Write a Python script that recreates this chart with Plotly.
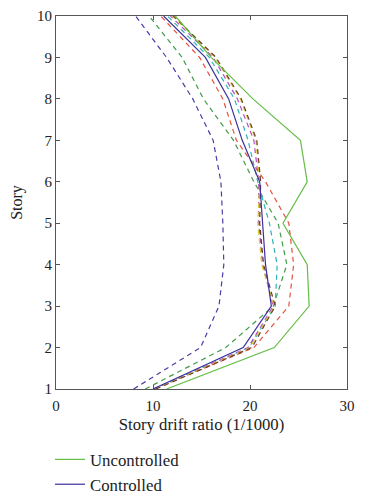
import plotly.graph_objects as go

stories = [1, 2, 3, 4, 5, 6, 7, 8, 9, 10]

uncontrolled = [11.4, 22.5, 26.1, 25.9, 23.4, 25.9, 25.2, 20.3, 16.0, 12.3]
controlled = [10.0, 19.3, 22.2, 21.6, 21.3, 21.0, 19.2, 17.8, 15.4, 11.1]

dashed_blue = [8.0, 14.9, 16.8, 17.3, 17.2, 17.0, 16.2, 14.1, 11.4, 8.2]
dashed_green = [9.2, 17.5, 22.4, 23.8, 22.9, 20.4, 18.3, 15.2, 13.0, 9.6]
dashed_red = [10.1, 20.4, 24.0, 24.5, 24.0, 21.6, 18.6, 17.2, 14.8, 10.8]
dashed_cyan = [10.0, 19.9, 22.6, 22.8, 22.0, 20.8, 19.8, 18.4, 15.8, 11.5]
dashed_magenta = [10.1, 19.8, 22.4, 21.3, 20.9, 20.9, 20.4, 18.7, 16.2, 11.8]
dashed_yellow = [10.2, 20.0, 22.5, 21.2, 20.8, 21.0, 20.6, 19.0, 16.4, 12.0]
dashed_dark = [10.3, 20.2, 22.6, 21.4, 21.0, 21.1, 20.7, 19.1, 16.5, 12.1]

x_ticks = [0, 10, 20, 30]
y_ticks = [1, 2, 3, 4, 5, 6, 7, 8, 9, 10]

fig = go.Figure()

dashed = [
    (dashed_blue, "#4b3ca6"),
    (dashed_green, "#3f9e48"),
    (dashed_red, "#e4513e"),
    (dashed_cyan, "#2fb4b4"),
    (dashed_magenta, "#b64cc4"),
    (dashed_yellow, "#d6cf3a"),
    (dashed_dark, "#6b3b2a"),
]
for vals, col in dashed:
    fig.add_trace(go.Scatter(x=vals, y=stories, mode="lines",
                             line=dict(color=col, width=1.2, dash="5px,4px"),
                             showlegend=False, hoverinfo="skip"))

fig.add_trace(go.Scatter(x=uncontrolled, y=stories, mode="lines", name="Uncontrolled",
                         line=dict(color="#66bd48", width=1.2)))
fig.add_trace(go.Scatter(x=controlled, y=stories, mode="lines", name="Controlled",
                         line=dict(color="#3c2f9c", width=1.2)))

font = dict(family="Liberation Serif, DejaVu Serif, serif", size=15, color="#222222")

fig.update_layout(
    width=359, height=492,
    margin=dict(l=48, r=20, t=8, b=111, autoexpand=False),
    paper_bgcolor="white", plot_bgcolor="white",
    font=font,
    showlegend=True,
    legend=dict(x=-0.0206, y=-0.142, xanchor="left", yanchor="top",
                orientation="v", font=dict(size=16.8, family=font["family"], color="#222"),
                bgcolor="rgba(0,0,0,0)", tracegroupgap=0),
    xaxis=dict(range=[0, 30], tickvals=x_ticks, ticks="inside", ticklen=4,
               showline=True, linecolor="#555", linewidth=1, mirror="ticks",
               showgrid=False, zeroline=False, tickcolor="#555", automargin=False,
               ticklabelstandoff=3,
               title=dict(text="Story drift ratio (1/1000)", standoff=5, font=dict(size=16.7))),
    yaxis=dict(range=[1, 10], tickvals=y_ticks, ticks="inside", ticklen=4,
               showline=True, linecolor="#555", linewidth=1, mirror="ticks",
               showgrid=False, zeroline=False, tickcolor="#555", automargin=False,
               title=dict(text="Story", standoff=23, font=dict(size=16))),
)

fig.write_html("out.html")
